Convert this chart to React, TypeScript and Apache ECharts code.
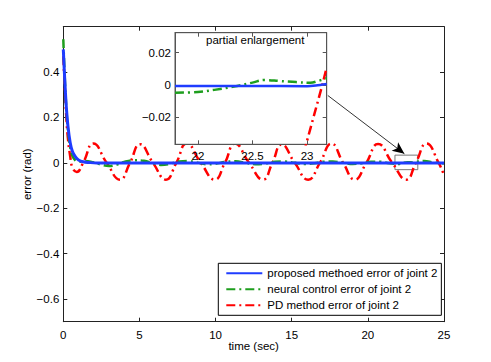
import React, { useEffect, useRef } from "react";
import * as echarts from "echarts";

// ---- data ----
const legendNames = [
  "proposed methoed error of joint 2",
  "neural control error of joint 2",
  "PD method error of joint 2",
];

const blueT = [0, 0.1, 0.2, 0.3, 0.45, 0.6, 0.8, 1.0, 1.3, 1.7, 2.2, 25];
const blueV = [0.5, 0.36, 0.245, 0.165, 0.09, 0.05, 0.026, 0.013, 0.005, 0.0015, -0.0006, -0.0008];

const greenT = [0, 0.1, 0.2, 0.3, 0.45, 0.6, 0.8, 1.0, 1.3, 1.8, 2.4, 3.0, 3.5, 4.0, 4.6, 5.3, 5.9, 6.4, 7.0, 7.6, 8.2, 8.8, 9.4, 10.0, 10.6, 11.3, 12.0, 12.6, 13.3, 13.9, 14.5, 15.2, 15.8, 16.5, 17.1, 17.7, 18.4, 19.0, 19.6, 20.2, 20.8, 21.4, 22.0, 22.6, 23.0, 23.2, 23.7, 24.3, 25];
const greenV = [0.545, 0.37, 0.24, 0.15, 0.07, 0.03, 0.01, 0.004, 0.008, 0.005, -0.006, -0.014, -0.008, 0.004, 0.011, 0.009, -0.002, -0.009, -0.005, 0.006, 0.008, 0.001, -0.006, -0.004, 0.004, 0.007, 0.0, -0.006, -0.003, 0.005, 0.006, 0.0, -0.005, -0.002, 0.005, 0.006, 0.0, -0.005, -0.002, 0.005, 0.005, -0.002, -0.005, 0.003, 0.0015, 0.004, 0.008, 0.002, -0.003];

const redT = [0, 0.1, 0.2, 0.3, 0.45, 0.6, 0.88, 1.3, 1.97, 2.85, 3.72, 4.38, 5.03, 5.89, 6.74, 7.42, 8.1, 9.03, 9.95, 10.61, 11.27, 12.2, 13.12, 13.73, 14.33, 15.2, 16.08, 16.85, 17.61, 18.38, 19.14, 19.9, 20.67, 21.6, 22.53, 23.15, 23.85, 24.65, 25];
const redV = [0.47, 0.33, 0.2, 0.11, 0.03, -0.02, -0.04, 0.0, 0.085, 0.0, -0.074, 0.0, 0.082, 0.0, -0.074, 0.0, 0.085, 0.0, -0.074, 0.0, 0.085, 0.0, -0.074, 0.0, 0.081, 0.0, -0.074, 0.0, 0.085, 0.0, -0.074, 0.0, 0.083, 0.0, -0.074, 0.0, 0.085, 0.0, -0.055];

// inset (partial enlargement) readings
const insetBlueT = [21.79, 22.5, 23.0, 23.08, 23.18];
const insetBlueV = [-0.0006, -0.0006, -0.0007, -0.0003, 0.0006];
const insetGreenT = [21.79, 22.0, 22.15, 22.33, 22.5, 22.61, 22.75, 22.9, 23.03, 23.1, 23.18];
const insetGreenV = [-0.0048, -0.0043, -0.003, -0.001, 0.0015, 0.0031, 0.0025, 0.0018, 0.0014, 0.0025, 0.0042];
const insetRedT = [22.97, 22.99, 23.14, 23.18];
const insetRedV = [-0.042, -0.037, 0.0, 0.011];

const mainYTicks = [-0.6, -0.4, -0.2, 0, 0.2, 0.4];
const insetXTicks = [22, 22.5, 23];
const insetYTicks = [-0.02, 0, 0.02];
const insetXRange = [21.79, 23.18];
const insetYRange = [-0.0367, 0.0324];
const zoomBoxX = [21.78, 23.28];
const zoomBoxY = [-0.03, 0.034];
const arrowFrom = [17.37, 0.297];
const arrowTo = [22.4, 0.04];

const zip = (t: number[], v: number[]) => t.map((x, i) => [x, v[i]]);

const FONT = "Liberation Sans, Arial, Helvetica, sans-serif";
const FS = 11.5;
const fmt = (v: number) => String(v).replace("-", "\u2212");

const BLUE = "#1f3cff";
const GREEN = "#1e9e1e";
const RED = "#ff0000";

export default function App() {
  const ref = useRef<HTMLDivElement>(null);
  useEffect(() => {
    if (!ref.current) return;
    const chart = echarts.init(ref.current, undefined, { renderer: "svg" });
    const labelStyle = { fontFamily: FONT, fontSize: FS, color: "#000" };
    const mainAxisLine = { show: true, onZero: false, lineStyle: { color: "#222", width: 1 } };
    const insetAxisLine = { show: true, onZero: false, lineStyle: { color: "#555", width: 1 } };
    const tickIn = (color: string, custom?: number[]) => ({
      show: true,
      inside: true,
      length: 4,
      lineStyle: { color, width: 1 },
      ...(custom ? { customValues: custom } : {}),
    });
    const dashDot = [9, 4, 2, 4];

    const option: any = {
      animation: false,
      backgroundColor: "#fff",
      grid: [
        { left: 63.3, right: 47, top: 26.7, bottom: 40.3 },
        {
          left: 175,
          top: 32.7,
          width: 151.7,
          height: 111.6,
          show: true,
          backgroundColor: "#fff",
          borderColor: "#555",
          borderWidth: 1,
          z: 10,
        },
      ],
      xAxis: [
        {
          type: "value",
          gridIndex: 0,
          min: 0,
          max: 25,
          interval: 5,
          position: "bottom",
          axisLine: mainAxisLine,
          axisTick: tickIn("#222"),
          axisLabel: { ...labelStyle, margin: 7 },
          splitLine: { show: false },
          name: "time (sec)",
          nameLocation: "middle",
          nameGap: 18.5,
          nameMoveOverlap: false,
          nameTextStyle: labelStyle,
        },
        {
          type: "value",
          gridIndex: 0,
          min: 0,
          max: 25,
          interval: 5,
          position: "top",
          axisLine: mainAxisLine,
          axisTick: tickIn("#222"),
          axisLabel: { show: false },
          splitLine: { show: false },
        },
        {
          type: "value",
          gridIndex: 1,
          min: insetXRange[0],
          max: insetXRange[1],
          position: "bottom",
          z: 11,
          axisLine: insetAxisLine,
          axisTick: tickIn("#555", insetXTicks),
          axisLabel: { ...labelStyle, margin: 6, customValues: insetXTicks, formatter: fmt },
          splitLine: { show: false },
        },
        {
          type: "value",
          gridIndex: 1,
          min: insetXRange[0],
          max: insetXRange[1],
          position: "top",
          z: 11,
          axisLine: insetAxisLine,
          axisTick: tickIn("#555", insetXTicks),
          axisLabel: { show: false },
          splitLine: { show: false },
        },
      ],
      yAxis: [
        {
          type: "value",
          gridIndex: 0,
          min: -0.7,
          max: 0.6,
          position: "left",
          axisLine: mainAxisLine,
          axisTick: tickIn("#222", mainYTicks),
          axisLabel: { ...labelStyle, margin: 4, customValues: mainYTicks, formatter: fmt },
          splitLine: { show: false },
          name: "error (rad)",
          nameLocation: "middle",
          nameGap: 30,
          nameMoveOverlap: false,
          nameTextStyle: labelStyle,
        },
        {
          type: "value",
          gridIndex: 0,
          min: -0.7,
          max: 0.6,
          position: "right",
          axisLine: mainAxisLine,
          axisTick: tickIn("#222", mainYTicks),
          axisLabel: { show: false },
          splitLine: { show: false },
        },
        {
          type: "value",
          gridIndex: 1,
          min: insetYRange[0],
          max: insetYRange[1],
          position: "left",
          z: 11,
          axisLine: insetAxisLine,
          axisTick: tickIn("#555", insetYTicks),
          axisLabel: { ...labelStyle, margin: 4, customValues: insetYTicks, formatter: fmt },
          splitLine: { show: false },
        },
        {
          type: "value",
          gridIndex: 1,
          min: insetYRange[0],
          max: insetYRange[1],
          position: "right",
          z: 11,
          axisLine: insetAxisLine,
          axisTick: tickIn("#555", insetYTicks),
          axisLabel: { show: false },
          splitLine: { show: false },
        },
      ],
      legend: {
        data: legendNames,
        orient: "vertical",
        left: 218.3,
        top: 263.3,
        backgroundColor: "#fff",
        borderColor: "#000",
        borderWidth: 1,
        borderRadius: 0,
        padding: [3, 4, 3, 7],
        itemWidth: 36,
        itemHeight: 14,
        itemGap: 2,
        itemStyle: { opacity: 0 },
        textStyle: { fontFamily: FONT, fontSize: FS, color: "#000", lineHeight: 14 },
        selectedMode: false,
        z: 20,
      },
      graphic: [
        {
          type: "text",
          left: 206,
          top: 34,
          z: 30,
          style: {
            text: "partial enlargement",
            font: `${FS}px ${FONT}`,
            fill: "#000",
          },
        },
      ],
      series: [
        {
          name: legendNames[0],
          type: "line",
          xAxisIndex: 0,
          yAxisIndex: 0,
          data: zip(blueT, blueV),
          smooth: 0.4,
          symbol: "none",
          z: 4,
          lineStyle: { color: BLUE, width: 3 },
          itemStyle: { color: BLUE },
          markArea: {
            silent: true,
            itemStyle: { color: "rgba(0,0,0,0)", borderColor: "#777", borderWidth: 1 },
            data: [[{ coord: [zoomBoxX[0], zoomBoxY[1]] }, { coord: [zoomBoxX[1], zoomBoxY[0]] }]],
          },
          markLine: {
            silent: true,
            symbol: ["none", "arrow"],
            symbolSize: [8, 12],
            label: { show: false },
            lineStyle: { color: "#000", width: 0.8, type: "solid" },
            data: [[{ coord: arrowFrom }, { coord: arrowTo }]],
          },
        },
        {
          name: legendNames[1],
          type: "line",
          xAxisIndex: 0,
          yAxisIndex: 0,
          data: zip(greenT, greenV),
          smooth: 0.4,
          symbol: "none",
          z: 3,
          lineStyle: { color: GREEN, width: 2.5, type: dashDot },
          itemStyle: { color: GREEN },
        },
        {
          name: legendNames[2],
          type: "line",
          xAxisIndex: 0,
          yAxisIndex: 0,
          data: zip(redT, redV),
          smooth: 0.5,
          symbol: "none",
          z: 2,
          lineStyle: { color: RED, width: 2.5, type: dashDot },
          itemStyle: { color: RED },
        },
        {
          name: "inset-red",
          type: "line",
          xAxisIndex: 2,
          yAxisIndex: 2,
          data: zip(insetRedT, insetRedV),
          smooth: false,
          symbol: "none",
          clip: true,
          z: 12,
          lineStyle: { color: RED, width: 2.5, type: dashDot },
        },
        {
          name: "inset-green",
          type: "line",
          xAxisIndex: 2,
          yAxisIndex: 2,
          data: zip(insetGreenT, insetGreenV),
          smooth: 0.4,
          symbol: "none",
          clip: true,
          z: 13,
          lineStyle: { color: GREEN, width: 2.5, type: dashDot },
        },
        {
          name: "inset-blue",
          type: "line",
          xAxisIndex: 2,
          yAxisIndex: 2,
          data: zip(insetBlueT, insetBlueV),
          smooth: 0.3,
          symbol: "none",
          clip: true,
          z: 14,
          lineStyle: { color: BLUE, width: 2.5 },
        },
      ],
    };
    chart.setOption(option);
    return () => chart.dispose();
  }, []);
  return (
    <div
      ref={ref}
      style={{ position: "fixed", left: 0, top: 0, width: 491, height: 362, background: "#fff" }}
    />
  );
}
